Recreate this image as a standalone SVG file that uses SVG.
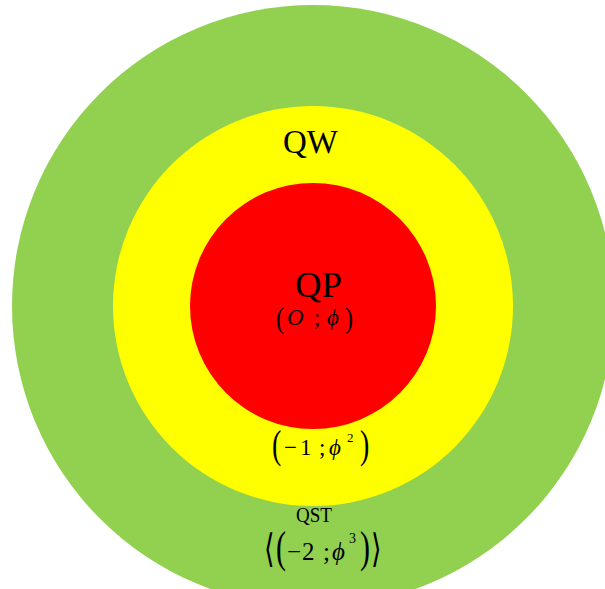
<svg xmlns="http://www.w3.org/2000/svg" width="605" height="589" viewBox="0 0 605 589">
<style>
.t{font-family:"Liberation Serif","DejaVu Serif",serif;fill:#000}
.b{font-family:"DejaVu Sans","Liberation Serif",sans-serif;fill:#000}
.lbl{font-family:"Liberation Serif",serif;fill:#000}
.i{font-style:italic}
</style>
<rect width="605" height="589" fill="#fff"/>
<g id="qst">
<circle cx="313" cy="306" r="301" fill="#92D050"/>
</g>
<g id="qw">
<circle cx="313" cy="306" r="200" fill="#FFFF00"/>
</g>
<g id="qp">
<circle cx="313" cy="306" r="123" fill="#FF0000"/>
</g>
<g id="labels">
<text class="lbl" x="283" y="153" font-size="34" textLength="55" lengthAdjust="spacingAndGlyphs">QW</text>
<text class="lbl" x="295" y="297" font-size="35" textLength="47" lengthAdjust="spacingAndGlyphs">QP</text>

<text class="t" transform="translate(276,328) scale(1,1.25)" font-size="24">(</text>
<text class="t i" x="287" y="325" font-size="23">O</text>
<text class="t" x="314" y="325" font-size="23">;</text>
<text class="t i" x="327" y="325" font-size="23">ϕ</text>
<text class="t" transform="translate(345,328) scale(1,1.25)" font-size="24">)</text>

<text class="t" transform="translate(272,458) scale(1,1.4)" font-size="28">(</text>
<text class="t" x="284" y="455" font-size="23">−</text>
<text class="t" x="300" y="455" font-size="23">1</text>
<text class="t" x="319" y="455" font-size="23">;</text>
<text class="t i" x="329" y="455" font-size="23">ϕ</text>
<text class="t" x="347" y="442" font-size="13">2</text>
<text class="t" transform="translate(360,458) scale(1,1.4)" font-size="28">)</text>

<text class="lbl" x="296" y="522" font-size="22" textLength="36" lengthAdjust="spacingAndGlyphs">QST</text>
<text class="b" transform="translate(264,562) scale(1,1.45)" font-size="27">⟨</text>
<text class="t" transform="translate(276,562) scale(1,1.5)" font-size="30">(</text>
<text class="t" x="287" y="560" font-size="25">−</text>
<text class="t" x="302" y="560" font-size="25">2</text>
<text class="t" x="323" y="560" font-size="25">;</text>
<text class="t i" x="332" y="560" font-size="25">ϕ</text>
<text class="t" x="349" y="543" font-size="14">3</text>
<text class="t" transform="translate(360,562) scale(1,1.5)" font-size="30">)</text>
<text class="b" transform="translate(371,562) scale(1,1.45)" font-size="27">⟩</text>
</g>
</svg>
